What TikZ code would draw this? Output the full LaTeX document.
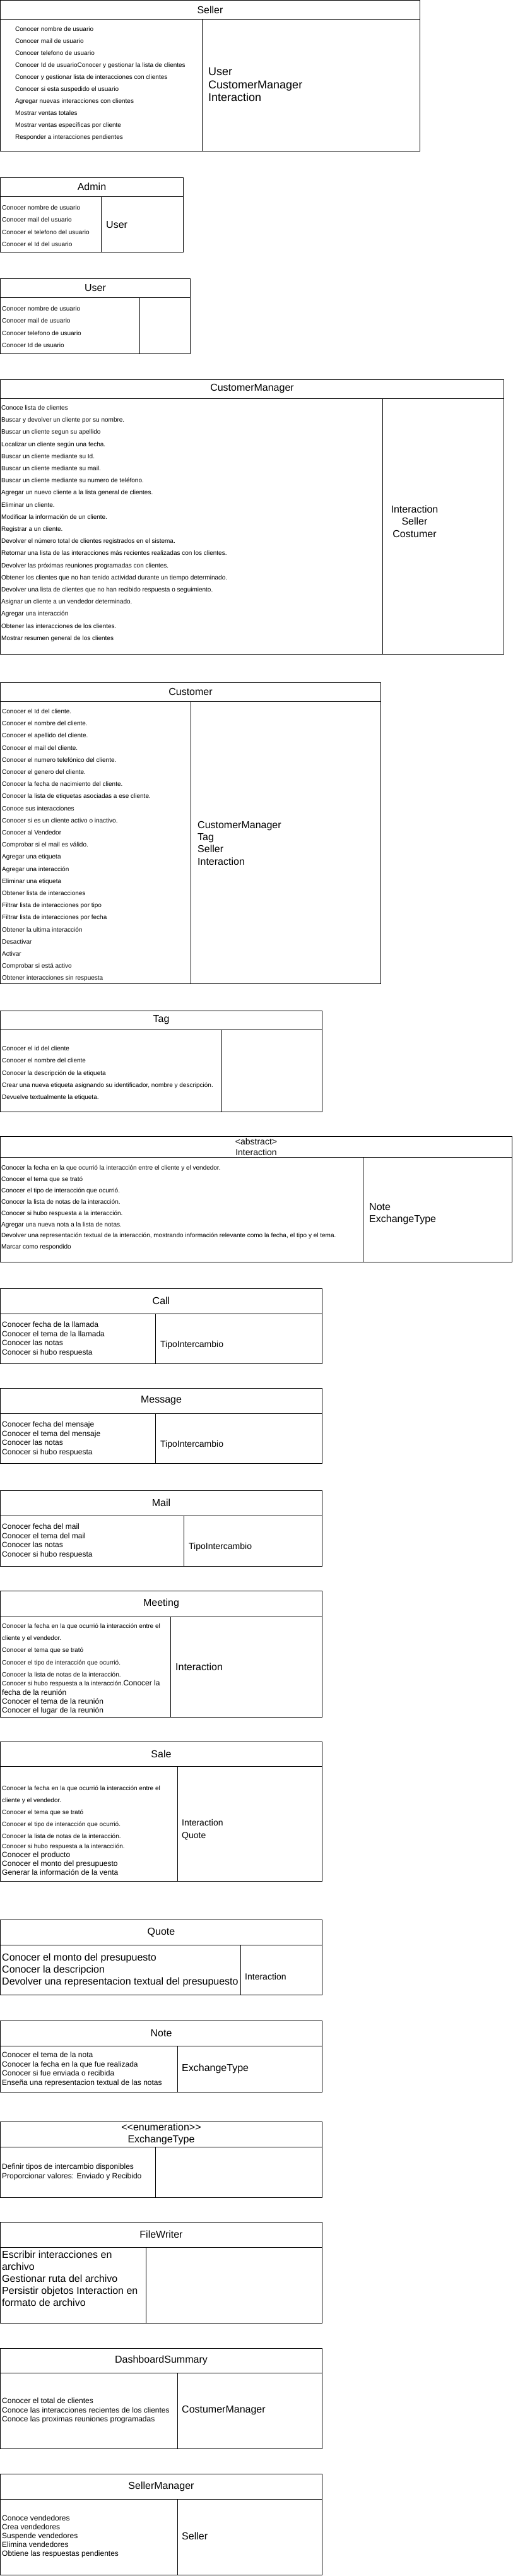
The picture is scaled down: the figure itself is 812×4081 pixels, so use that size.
\documentclass[tikz,border=0pt]{standalone}
\usepackage{fontspec}
\setmainfont{Liberation Sans}
\usetikzlibrary{positioning}

\begin{document}
\begin{tikzpicture}[x=1pt, y=-1pt,
    head/.style={draw, line width=1pt, anchor=north west, inner sep=0pt, outer sep=0pt, align=center, font=\fontsize{16}{19}\selectfont},
    cell/.style={draw, line width=1pt, anchor=north west, inner sep=0pt, outer sep=0pt},
    resp/.style={anchor=north west, inner sep=0pt, align=left, font=\fontsize{10}{19}\selectfont},
    respmid/.style={anchor=north west, inner sep=0pt, align=left, font=\fontsize{12}{14.4}\selectfont},
    respbig/.style={anchor=north west, inner sep=0pt, align=left, font=\fontsize{16}{19}\selectfont},
    collab/.style={anchor=west, inner sep=0pt, align=left, font=\fontsize{16}{19}\selectfont},
    collabsmall/.style={anchor=west, inner sep=0pt, align=left, font=\fontsize{14}{20}\selectfont}]

    \path[use as bounding box, fill=white] (0,0) rectangle (812,4081);

    % Seller
    \node[head, minimum width=665, minimum height=30] (sellerT) at (0.5,0.5) {Seller};
    \node[cell, minimum width=320, minimum height=209] (sellerL) at (sellerT.south west) {};
    \node[cell, minimum width=345, minimum height=209, right=0pt of sellerL] (sellerR) {};
    \node[resp] (sellerResp) at (24,42) {Conocer nombre de usuario\\Conocer mail de usuario\\Conocer telefono de usuario\\Conocer Id de usuarioConocer y gestionar la lista de clientes\\Conocer y gestionar lista de interacciones con clientes\\Conocer si esta suspedido el usuario\\Agregar nuevas interacciones con clientes\\Mostrar ventas totales\\Mostrar ventas específicas por cliente\\Responder a interacciones pendientes};
    \node[respbig, font=\fontsize{18}{20.5}\selectfont] (sellerCollab) at (330,107) {User\\CustomerManager\\Interaction};

    % Admin
    \node[head, minimum width=290, minimum height=30] (adminT) at (0.5,281) {Admin};
    \node[cell, minimum width=160, minimum height=88] (adminL) at (adminT.south west) {};
    \node[cell, minimum width=130, minimum height=88, right=0pt of adminL] (adminR) {};
    \node[resp, font=\fontsize{10}{19.3}\selectfont] (adminResp) at (3,325) {Conocer nombre de usuario\\Conocer mail del usuario\\Conocer el telefono del usuario\\Conocer el Id del usuario};
    \node[collab] (adminCollab) at (168,356) {User};

    % User
    \node[head, minimum width=301, minimum height=30] (userT) at (0.5,441) {User};
    \node[cell, minimum width=221, minimum height=89] (userL) at (userT.south west) {};
    \node[cell, minimum width=80, minimum height=89, right=0pt of userL] (userR) {};
    \node[resp, font=\fontsize{10}{19.3}\selectfont] (userResp) at (3,485) {Conocer nombre de usuario\\Conocer mail de usuario\\Conocer telefono de usuario\\Conocer Id de usuario};

    % CustomerManager
    \node[head, minimum width=798, minimum height=30] (cmT) at (0.5,601) {CustomerManager};
    \node[cell, minimum width=606, minimum height=405] (cmL) at (cmT.south west) {};
    \node[cell, minimum width=192, minimum height=405, right=0pt of cmL] (cmR) {};
    \node[resp, font=\fontsize{10}{19.2}\selectfont] (cmResp) at (2,642) {Conoce lista de clientes\\Buscar y devolver un cliente por su nombre.\\Buscar un cliente segun su apellido\\Localizar un cliente según una fecha.\\Buscar un cliente mediante su Id.\\Buscar un cliente mediante su mail.\\Buscar un cliente mediante su numero de teléfono.\\Agregar un nuevo cliente a la lista general de clientes.\\Eliminar un cliente.\\Modificar la información de un cliente.\\Registrar a un cliente.\\Devolver el número total de clientes registrados en el sistema.\\Retornar una lista de las interacciones más recientes realizadas con los clientes.\\Devolver las próximas reuniones programadas con clientes.\\Obtener los clientes que no han tenido actividad durante un tiempo determinado.\\Devolver una lista de clientes que no han recibido respuesta o seguimiento.\\Asignar un cliente a un vendedor determinado.\\Agregar una interacción\\Obtener las interacciones de los clientes.\\Mostrar resumen general de los clientes};
    \node[collab, anchor=center, align=center, font=\fontsize{16}{19.5}\selectfont] (cmCollab) at (657,826) {Interaction\\Seller\\Costumer};

    % Customer
    \node[head, minimum width=603, minimum height=30] (customerT) at (0.5,1081) {Customer};
    \node[cell, minimum width=302, minimum height=447] (customerL) at (customerT.south west) {};
    \node[cell, minimum width=301, minimum height=447, right=0pt of customerL] (customerR) {};
    \node[resp, font=\fontsize{10}{19.2}\selectfont] (customerResp) at (3,1123) {Conocer el Id del cliente.\\Conocer el nombre del cliente.\\Conocer el apellido del cliente.\\Conocer el mail del cliente.\\Conocer el numero telefónico del cliente.\\Conocer el genero del cliente.\\Conocer la fecha de nacimiento del cliente.\\Conocer la lista de etiquetas asociadas a ese cliente.\\Conoce sus interacciones\\Conocer si es un cliente activo o inactivo.\\Conocer al Vendedor\\Comprobar si el mail es válido.\\Agregar una etiqueta\\Agregar una interacción\\Eliminar una etiqueta\\Obtener lista de interacciones\\Filtrar lista de interacciones por tipo\\Filtrar lista de interacciones por fecha\\Obtener la ultima interacción\\Desactivar\\Activar\\Comprobar si está activo\\Obtener interacciones sin respuesta};
    \node[respbig, font=\fontsize{16}{19.3}\selectfont] (customerCollab) at (313,1301) {CustomerManager\\Tag\\Seller\\Interaction};

    % Tag
    \node[head, minimum width=510, minimum height=30] (tagT) at (0.5,1601) {Tag};
    \node[cell, minimum width=351, minimum height=130] (tagL) at (tagT.south west) {};
    \node[cell, minimum width=159, minimum height=130, right=0pt of tagL] (tagR) {};
    \node[resp, font=\fontsize{10}{19.3}\selectfont] (tagResp) at (3,1657) {Conocer el id del cliente\\Conocer el nombre del cliente\\Conocer la descripción de la etiqueta\\Crear una nueva etiqueta asignando su identificador, nombre y descripción.\\Devuelve textualmente la etiqueta.};

    % Interaction
    \node[head, minimum width=811, minimum height=33, font=\fontsize{14}{17}\selectfont] (interactionT) at (0.5,1800) {<abstract>\\Interaction};
    \node[cell, minimum width=575, minimum height=166] (interactionL) at (interactionT.south west) {};
    \node[cell, minimum width=236, minimum height=166, right=0pt of interactionL] (interactionR) {};
    \node[resp, font=\fontsize{10}{17.9}\selectfont] (interactionResp) at (2,1846) {Conocer la fecha en la que ocurrió la interacción entre el cliente y el vendedor.\\Conocer el tema que se trató\\Conocer el tipo de interacción que ocurrió.\\Conocer la lista de notas de la interacción.\\Conocer si hubo respuesta a la interacción.\\Agregar una nueva nota a la lista de notas.\\Devolver una representación textual de la interacción, mostrando información relevante como la fecha, el tipo y el tema.\\Marcar como respondido};
    \node[respbig] (interactionCollab) at (585,1906) {Note\\ExchangeType};

    % Call
    \node[head, minimum width=510, minimum height=40] (callT) at (0.5,2041) {Call};
    \node[cell, minimum width=246, minimum height=79] (callL) at (callT.south west) {};
    \node[cell, minimum width=264, minimum height=79, right=0pt of callL] (callR) {};
    \node[respmid] (callResp) at (3,2094) {Conocer fecha de la llamada\\Conocer el tema de la llamada\\Conocer las notas\\Conocer si hubo respuesta};
    \node[collabsmall] (callCollab) at (254,2131) {TipoIntercambio};

    % Message
    \node[head, minimum width=510, minimum height=40] (messageT) at (0.5,2199) {Message};
    \node[cell, minimum width=246, minimum height=79] (messageL) at (messageT.south west) {};
    \node[cell, minimum width=264, minimum height=79, right=0pt of messageL] (messageR) {};
    \node[respmid] (messageResp) at (3,2252) {Conocer fecha del mensaje\\Conocer el tema del mensaje\\Conocer las notas\\Conocer si hubo respuesta};
    \node[collabsmall] (messageCollab) at (254,2289) {TipoIntercambio};

    % Mail
    \node[head, minimum width=510, minimum height=40] (mailT) at (0.5,2361) {Mail};
    \node[cell, minimum width=291, minimum height=80] (mailL) at (mailT.south west) {};
    \node[cell, minimum width=219, minimum height=80, right=0pt of mailL] (mailR) {};
    \node[respmid] (mailResp) at (3,2414) {Conocer fecha del mail\\Conocer el tema del mail\\Conocer las notas\\Conocer si hubo respuesta};
    \node[collabsmall] (mailCollab) at (299,2451) {TipoIntercambio};

    % Meeting
    \node[head, minimum width=510, minimum height=41] (meetingT) at (0.5,2520) {Meeting};
    \node[cell, minimum width=270, minimum height=159] (meetingL) at (meetingT.south west) {};
    \node[cell, minimum width=240, minimum height=159, right=0pt of meetingL] (meetingR) {};
    \node[resp, font=\fontsize{10}{19.2}\selectfont] (meetingResp) at (3,2572) {Conocer la fecha en la que ocurrió la interacción entre el\\cliente y el vendedor.\\Conocer el tema que se trató\\Conocer el tipo de interacción que ocurrió.\\Conocer la lista de notas de la interacción.};
    \node[respmid, font=\fontsize{12}{14.3}\selectfont] (meetingResp2) at (3,2662) {{\fontsize{10}{14.3}\selectfont Conocer si hubo respuesta a la interacción.}Conocer la\\fecha de la reunión\\Conocer el tema de la reunión\\Conocer el lugar de la reunión};
    \node[collab] (meetingCollab) at (278,2641) {Interaction};

    % Sale
    \node[head, minimum width=510, minimum height=39] (saleT) at (0.5,2759) {Sale};
    \node[cell, minimum width=281, minimum height=182] (saleL) at (saleT.south west) {};
    \node[cell, minimum width=229, minimum height=182, right=0pt of saleL] (saleR) {};
    \node[resp] (saleResp) at (3,2829) {Conocer la fecha en la que ocurrió la interacción entre el\\cliente y el vendedor.\\Conocer el tema que se trató\\Conocer el tipo de interacción que ocurrió.\\Conocer la lista de notas de la interacción.};
    \node[respmid, font=\fontsize{12}{14}\selectfont] (saleResp2) at (3,2921) {{\fontsize{10}{14}\selectfont Conocer si hubo respuesta a la interacciión.}\\Conocer el producto\\Conocer el monto del presupuesto\\Generar la información de la venta};
    \node[collabsmall] (saleCollab) at (288,2899) {Interaction\\Quote};

    % Quote
    \node[head, minimum width=510, minimum height=40] (quoteT) at (0.5,3041) {Quote};
    \node[cell, minimum width=381, minimum height=79] (quoteL) at (quoteT.south west) {};
    \node[cell, minimum width=129, minimum height=79, right=0pt of quoteL] (quoteR) {};
    \node[respbig] (quoteResp) at (3,3095) {Conocer el monto del presupuesto\\Conocer la descripcion\\Devolver una representacion textual del presupuesto};
    \node[collabsmall] (quoteCollab) at (388,3131) {Interaction};

    % Note
    \node[head, minimum width=510, minimum height=40] (noteT) at (0.5,3201) {Note};
    \node[cell, minimum width=281, minimum height=73] (noteL) at (noteT.south west) {};
    \node[cell, minimum width=229, minimum height=73, right=0pt of noteL] (noteR) {};
    \node[respmid] (noteResp) at (3,3251) {Conocer el tema de la nota\\Conocer la fecha en la que fue realizada\\Conocer si fue enviada o recibida\\Enseña una representacion textual de las notas};
    \node[collab] (noteCollab) at (288,3277) {ExchangeType};

    % ExchangeType
    \node[head, minimum width=510, minimum height=40] (exchangeT) at (0.5,3361) {<\kern0pt<enumeration>\kern0pt>\\ExchangeType};
    \node[cell, minimum width=246, minimum height=80] (exchangeL) at (exchangeT.south west) {};
    \node[cell, minimum width=264, minimum height=80, right=0pt of exchangeL] (exchangeR) {};
    \node[respmid, font=\fontsize{12}{15}\selectfont] (exchangeResp) at (3,3428) {Definir tipos de intercambio disponibles\\Proporcionar valores: Enviado y Recibido};

    % FileWriter
    \node[head, minimum width=510, minimum height=40] (fileT) at (0.5,3520) {FileWriter};
    \node[cell, minimum width=231, minimum height=120] (fileL) at (fileT.south west) {};
    \node[cell, minimum width=279, minimum height=120, right=0pt of fileL] (fileR) {};
    \node[respbig] (fileResp) at (3,3566) {Escribir interacciones en\\archivo\\Gestionar ruta del archivo\\Persistir objetos Interaction en\\formato de archivo};

    % DashboardSummary
    \node[head, minimum width=510, minimum height=39] (dashT) at (0.5,3720) {DashboardSummary};
    \node[cell, minimum width=281, minimum height=120] (dashL) at (dashT.south west) {};
    \node[cell, minimum width=229, minimum height=120, right=0pt of dashL] (dashR) {};
    \node[respmid, font=\fontsize{12}{14.5}\selectfont] (dashResp) at (3,3799) {Conocer el total de clientes\\Conoce las interacciones recientes de los clientes\\Conoce las proximas reuniones programadas};
    \node[collab] (dashCollab) at (288,3819) {CostumerManager};

    % SellerManager
    \node[head, minimum width=510, minimum height=40] (smT) at (0.5,3919) {SellerManager};
    \node[cell, minimum width=281, minimum height=120] (smL) at (smT.south west) {};
    \node[cell, minimum width=229, minimum height=120, right=0pt of smL] (smR) {};
    \node[respmid, font=\fontsize{12}{14}\selectfont] (smResp) at (3,3985) {Conoce vendedores\\Crea vendedores\\Suspende vendedores\\Elimina vendedores\\Obtiene las respuestas pendientes};
    \node[collab] (smCollab) at (288,4018) {Seller};
\end{tikzpicture}
\end{document}
